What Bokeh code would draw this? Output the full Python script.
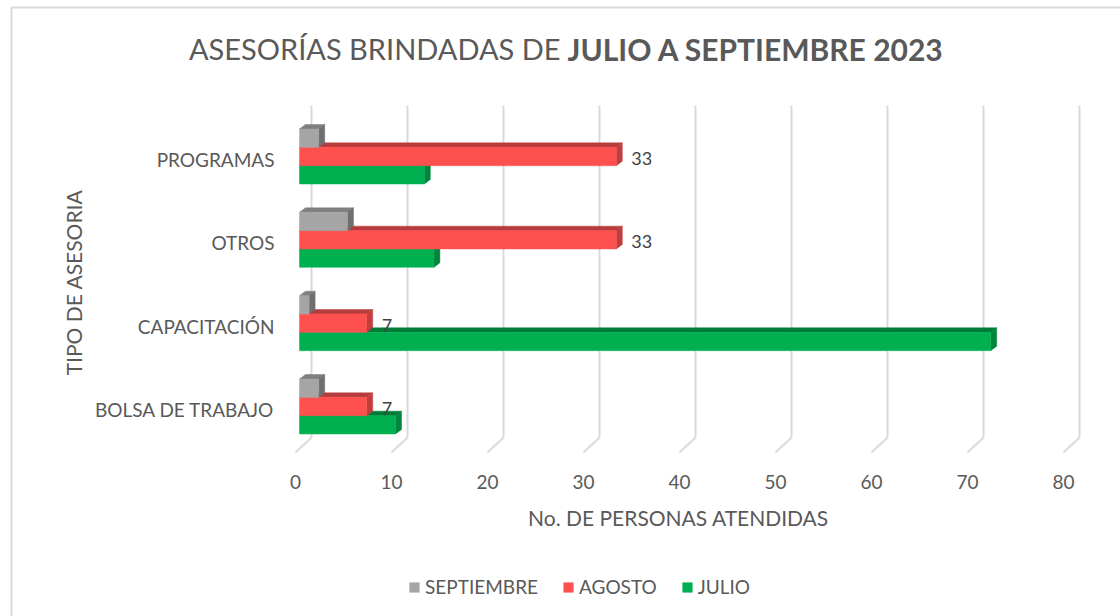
import math
from bokeh.plotting import figure
from bokeh.models import Range1d, Legend, LegendItem, ColumnDataSource
from bokeh.core.properties import value
from bokeh.embed import file_html
from bokeh.resources import INLINE

# ---------------- data ----------------
categories = ["BOLSA DE TRABAJO", "CAPACITACIÓN", "OTROS", "PROGRAMAS"]
julio = [10, 72, 14, 13]
agosto = [7, 7, 33, 33]
septiembre = [2, 1, 5, 2]
x_ticks = [0, 10, 20, 30, 40, 50, 60, 70, 80]
series_names = ["SEPTIEMBRE", "AGOSTO", "JULIO"]
title_normal = "ASESORÍAS BRINDADAS DE"
title_bold = "JULIO A SEPTIEMBRE 2023"
x_title = "No. DE PERSONAS ATENDIDAS"
y_title = "TIPO DE ASESORIA"

# ---------------- layout / style ----------------
W, H = 1120, 616
PX_X0, PX_PER_X = 299.0, 9.6      # pixel of value 0, pixels per unit
PX_Y0, PX_PER_Y = 406.0, 83.33    # pixel of first category, pixels per category
X_START, X_END = -PX_X0 / PX_PER_X, (W - PX_X0) / PX_PER_X
Y_START, Y_END = (PX_Y0 - H) / PX_PER_Y, PX_Y0 / PX_PER_Y


def xd(px):
    return (px - PX_X0) / PX_PER_X


def yd(py):
    return (PX_Y0 - py) / PX_PER_Y


DX, DY = 6 / PX_PER_X, 4.5 / PX_PER_Y      # 3D depth of bars
GX, GY = 16 / PX_PER_X, 15 / PX_PER_Y      # depth of wall
BAR_H = 0.22
FONT = "Lato"
TXT = "#595959"
GRID = "#D9D9D9"

colors = {
    "JULIO": ("#00B050", "#007A37", "#00863D"),
    "AGOSTO": ("#FF5050", "#B83C3C", "#C23D3D"),
    "SEPTIEMBRE": ("#A5A5A5", "#7F7F7F", "#6F6F6F"),
}
offsets = {"JULIO": -BAR_H, "AGOSTO": 0.0, "SEPTIEMBRE": BAR_H}
values = {"JULIO": julio, "AGOSTO": agosto, "SEPTIEMBRE": septiembre}

p = figure(width=W, height=H, output_backend="svg", toolbar_location=None,
           x_range=Range1d(X_START, X_END), y_range=Range1d(Y_START, Y_END),
           min_border=0, x_axis_location=None, y_axis_location=None)
p.outline_line_color = None
p.xgrid.visible = False
p.ygrid.visible = False
p.background_fill_color = "white"

# ---- chart border (left and top edges of the chart box) ----
p.segment(x0=[xd(11), xd(11)], y0=[yd(7), yd(7)], x1=[xd(11), xd(W + 20)], y1=[yd(H + 20), yd(7)],
          line_color=GRID, line_width=2)

# ---- 3D wall gridlines ----
n = len(x_ticks)
y_front = yd(452)
y_back = y_front + GY
y_topg = yd(105)
gx_front = [t - 4 / PX_PER_X for t in x_ticks]
gx_back = [t + GX - 4 / PX_PER_X for t in x_ticks]
p.segment(x0=gx_front, y0=[y_front] * n, x1=gx_back, y1=[y_back] * n, line_color=GRID, line_width=2)
p.segment(x0=gx_back, y0=[y_back] * n, x1=gx_back, y1=[y_topg] * n, line_color=GRID, line_width=2)

# ---- bars ----
renderers = {}
for name in ["JULIO", "AGOSTO", "SEPTIEMBRE"]:
    front, top_c, side_c = colors[name]
    vals = values[name]
    ctr = [i + offsets[name] for i in range(len(categories))]
    bot = [c - BAR_H / 2 for c in ctr]
    top = [c + BAR_H / 2 for c in ctr]
    p.patches([[0, v, v + DX, DX] for v in vals], [[t, t, t + DY, t + DY] for t in top],
              fill_color=top_c, line_color=top_c, line_width=0.5)
    p.patches([[v, v, v + DX, v + DX] for v in vals],
              [[b, t, t + DY, b + DY] for b, t in zip(bot, top)],
              fill_color=side_c, line_color=side_c, line_width=0.5)
    src = ColumnDataSource(dict(left=[0] * len(vals), right=vals, bottom=bot, top=top))
    renderers[name] = p.quad(left="left", right="right", bottom="bottom", top="top", source=src,
                             fill_color=front, line_color=front, line_width=0.5)

# ---- data labels (AGOSTO) ----
lab_src = ColumnDataSource(dict(x=agosto, y=list(range(len(categories))),
                                t=[str(v) for v in agosto]))
p.text(x="x", y="y", text="t", source=lab_src, x_offset=15, y_offset=2,
       text_font=value(FONT), text_font_size="18px", text_color="#404040",
       text_baseline="middle", text_align="left")

# ---- x tick labels ----
p.text(x=[t - 4 / PX_PER_X for t in x_ticks], y=[yd(481)] * n, text=[str(t) for t in x_ticks],
       text_font=value(FONT), text_font_size="19px", text_color=TXT,
       text_align="center", text_baseline="middle")

# ---- y tick labels ----
p.text(x=[xd(274)] * len(categories), y=list(range(len(categories))), text=categories,
       y_offset=3, text_font=value(FONT), text_font_size="19px", text_color=TXT,
       text_align="right", text_baseline="middle")

# ---- titles ----
p.text(x=[xd(560)], y=[yd(48)], text=[title_normal], text_font=value(FONT), text_font_size="29px",
       text_color=TXT, text_align="right", text_baseline="middle")
p.text(x=[xd(567)], y=[yd(48)], text=[title_bold], text_font=value(FONT), text_font_size="30px",
       text_font_style="bold", text_color=TXT, text_align="left", text_baseline="middle")
p.text(x=[xd(678)], y=[yd(517)], text=[x_title], text_font=value(FONT), text_font_size="21px",
       text_color=TXT, text_align="center", text_baseline="middle")
p.text(x=[xd(73)], y=[yd(282)], text=[y_title], angle=math.pi / 2, text_font=value(FONT),
       text_font_size="21px", text_color=TXT, text_align="center", text_baseline="middle")

# ---- legend ----
legend = Legend(items=[LegendItem(label=nm, renderers=[renderers[nm]]) for nm in series_names],
                orientation="horizontal", location=(408, 18),
                label_text_font=FONT, label_text_font_size="19px", label_text_color=TXT,
                glyph_width=12, glyph_height=12, label_standoff=5, spacing=24,
                padding=4, margin=0, border_line_color=None, background_fill_alpha=0)
p.add_layout(legend, "center")

open("out.html", "w").write(file_html(p, INLINE))
